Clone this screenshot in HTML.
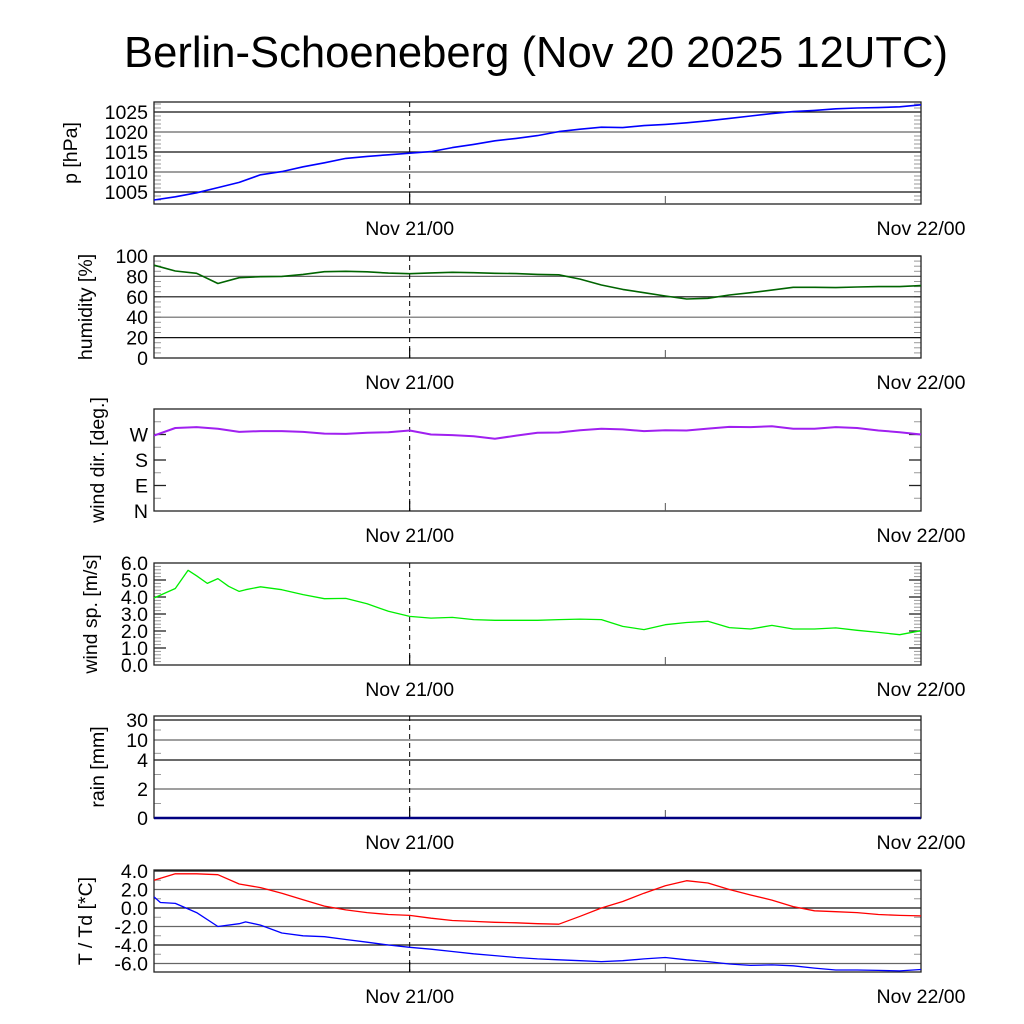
<!DOCTYPE html>
<html><head><meta charset="utf-8"><style>
html,body{margin:0;padding:0;background:#fff;}
svg{display:block;font-family:"Liberation Sans",sans-serif;}
</style></head><body>
<svg id="chart" width="1024" height="1024" viewBox="0 0 1024 1024" xmlns="http://www.w3.org/2000/svg">
<rect width="1024" height="1024" fill="#fff"/>
<text x="536" y="67" font-size="44" text-anchor="middle" textLength="824" lengthAdjust="spacingAndGlyphs">Berlin-Schoeneberg (Nov 20 2025 12UTC)</text>
</svg>
<script>
// ---- data (hours since Nov 20 12UTC) ----
const hours = [0,1,2,3,4,5,6,7,8,9,10,11,12,13,14,15,16,17,18,19,20,21,22,23,24,25,26,27,28,29,30,31,32,33,34,35,36];
const pressure = [1003,1003.8,1004.8,1006.1,1007.4,1009.3,1010.1,1011.3,1012.3,1013.4,1013.9,1014.3,1014.7,1015.1,1016.1,1016.9,1017.8,1018.4,1019.1,1020.1,1020.7,1021.2,1021.1,1021.6,1021.9,1022.3,1022.8,1023.4,1024.0,1024.6,1025.1,1025.4,1025.8,1026.0,1026.1,1026.3,1026.8];
const humidity = [91,85.3,83,73,78.7,79.7,80,82,84.6,85,84.5,83.2,82.6,83.4,84,83.6,83,82.7,82,81.6,77.4,71.6,67.3,64,60.8,57.8,58.5,61.8,64,66.6,69.3,69.3,69,69.6,70,70,71];
const windDir = [266,293,296,290,279,282,282,279,273,272,276,278,284,270,268,264,255,266,276,277,285,290,288,282,285,284,291,297,296,299,290,290,296,293,284,278,270];
const windHours = [0,1,1.6,2,2.5,3,3.5,4,4.3,5,6,7,8,9,10,11,12,13,14,15,16,17,18,19,20,21,22,23,24,25,26,27,28,29,30,31,32,33,34,35,36];
const windSpeed = [3.94,4.5,5.57,5.25,4.8,5.08,4.63,4.33,4.43,4.6,4.43,4.14,3.9,3.92,3.6,3.16,2.86,2.76,2.8,2.67,2.63,2.63,2.63,2.67,2.7,2.67,2.27,2.08,2.37,2.5,2.57,2.2,2.12,2.33,2.12,2.12,2.18,2.04,1.92,1.78,2.02];
const rain = [0,0,0,0,0,0,0,0,0,0,0,0,0,0,0,0,0,0,0,0,0,0,0,0,0,0,0,0,0,0,0,0,0,0,0,0,0];
const temperature = [3.0,3.7,3.7,3.6,2.6,2.2,1.6,0.9,0.2,-0.2,-0.5,-0.7,-0.8,-1.1,-1.35,-1.45,-1.55,-1.6,-1.7,-1.75,-0.9,0.0,0.7,1.6,2.4,2.95,2.7,2.0,1.4,0.85,0.15,-0.3,-0.4,-0.5,-0.7,-0.8,-0.85];
const dewHours = [0,0.3,1,2,3,4,4.3,5,6,7,8,9,10,11,12,13,14,15,16,17,18,19,20,21,22,23,24,25,26,27,28,29,30,31,32,33,34,35,36];
const dewpoint = [1.2,0.6,0.5,-0.5,-2.0,-1.7,-1.5,-1.85,-2.7,-3.0,-3.1,-3.4,-3.7,-4.0,-4.25,-4.45,-4.7,-4.95,-5.15,-5.35,-5.5,-5.6,-5.7,-5.8,-5.7,-5.5,-5.35,-5.6,-5.8,-6.05,-6.2,-6.15,-6.25,-6.5,-6.7,-6.7,-6.75,-6.8,-6.65];
const xTickLabels = ["Nov 21/00","Nov 22/00"];
const xTickHours = [12,36];

const NS="http://www.w3.org/2000/svg";
const svg=document.getElementById('chart');
const X0=154,X1=921,H0=0,H1=36;
function xs(h){return X0+(h-H0)/(H1-H0)*(X1-X0);}
function mk(tag,attrs,parent){const e=document.createElementNS(NS,tag);for(const k in attrs)e.setAttribute(k,attrs[k]);(parent||svg).appendChild(e);return e;}

function panel(name,pTop,ymap,opts){
  const g=mk('g',{});
  
  
  const bot=pTop+102;
  (opts.minor||[]).forEach(v=>{const y=ymap(v);
    mk('line',{x1:X0,x2:X0+7,y1:y,y2:y,stroke:'#999','stroke-width':1},g);
    mk('line',{x1:X1-7,x2:X1,y1:y,y2:y,stroke:'#999','stroke-width':1},g);});
  (opts.major||[]).forEach(v=>{const y=ymap(v);
    mk('line',{x1:X0,x2:X0+12,y1:y,y2:y,stroke:'#222','stroke-width':1.3},g);
    mk('line',{x1:X1-12,x2:X1,y1:y,y2:y,stroke:'#222','stroke-width':1.3},g);});
  (opts.grid||[]).forEach((v,i)=>{const y=ymap(v);
    const l=mk('line',{x1:X0,x2:X1,y1:y,y2:y,stroke:i%2?'#666':'#111','stroke-width':1.2},g);
    
    });
  mk('rect',{x:X0,y:pTop,width:X1-X0,height:102,fill:'none',stroke:'#222','stroke-width':1.3},g);
  mk('line',{x1:xs(12),x2:xs(12),y1:pTop,y2:bot,stroke:'#000','stroke-width':1,'stroke-dasharray':'5,4'},g);
  mk('line',{x1:xs(12),x2:xs(12),y1:bot-10,y2:bot,stroke:'#000','stroke-width':1.2},g);
  mk('line',{x1:xs(24),x2:xs(24),y1:bot-8,y2:bot,stroke:'#555','stroke-width':1},g);
  (opts.labels||[]).forEach(([v,t])=>{const tx=mk('text',{x:148,y:ymap(v)+7,'font-size':19.5,'text-anchor':'end'},g);tx.textContent=t;
    
    });
  const tt=mk('text',{x:0,y:0,'font-size':19.5,'text-anchor':'middle',transform:`translate(${opts.titleX||79},${pTop+51}) rotate(-90)`},g);
  tt.textContent=opts.title;
  
  
  xTickHours.forEach((h,i)=>{const tx=mk('text',{x:xs(h),y:bot+31,'font-size':19.5,'text-anchor':'middle'},g);tx.textContent=xTickLabels[i];
    
    });
  return g;
}
function series(g,name,hs,vals,ymap,color,w){
  const d=hs.map((h,i)=>(i?'L':'M')+xs(h).toFixed(1)+','+ymap(vals[i]).toFixed(1)).join('');
  const p=mk('path',{d:d,fill:'none',stroke:color,'stroke-width':w||1.3,'stroke-linejoin':'round'},g);
  
  
}
function range(a,b,s){const r=[];for(let v=a;v<=b+1e-9;v+=s)r.push(+v.toFixed(3));return r;}

const yP=v=>204-(v-1002)*4;
let g=panel('pressure',102,yP,{minor:range(1003,1027,1),grid:[1025,1020,1015,1010,1005],labels:[[1025,'1025'],[1020,'1020'],[1015,'1015'],[1010,'1010'],[1005,'1005']],title:'p [hPa]',titleX:77});
series(g,'pressure-line',hours,pressure,yP,'#0000ff',1.6);

const yH=v=>358-v*1.02;
g=panel('humidity',256,yH,{minor:range(0,100,5),grid:[100,80,60,40,20],labels:[[100,'100'],[80,'80'],[60,'60'],[40,'40'],[20,'20'],[0,'0']],title:'humidity [%]',titleX:92});
series(g,'humidity-line',hours,humidity,yH,'#006400',1.6);

const yD=v=>511-v/360*102;
g=panel('wind-direction',409,yD,{minor:[45,135,225,315],major:[90,180,270],labels:[[270,'W'],[180,'S'],[90,'E'],[0,'N']],title:'wind dir. [deg.]',titleX:104});
series(g,'wind-direction-line',hours,windDir,yD,'#a020f0',2);

const yS=v=>665-v*17;
g=panel('wind-speed',563,yS,{minor:range(0,6,0.2),major:[1,2,3,4,5],labels:[[6,'6.0'],[5,'5.0'],[4,'4.0'],[3,'3.0'],[2,'2.0'],[1,'1.0'],[0,'0.0']],title:'wind sp. [m/s]',titleX:97});
series(g,'wind-speed-line',windHours,windSpeed,yS,'#00ee00',1.3);

const rainVals=[0,2,4,10,30],rainPix=[818,789,760,740,720];
const yR=v=>{for(let i=1;i<rainVals.length;i++){if(v<=rainVals[i]){const t=(v-rainVals[i-1])/(rainVals[i]-rainVals[i-1]);return rainPix[i-1]+t*(rainPix[i]-rainPix[i-1]);}}return 716;};
g=panel('rain',716,yR,{minor:[1,3,6,20],grid:[30,10,4,2],labels:[[30,'30'],[10,'10'],[4,'4'],[2,'2'],[0,'0']],title:'rain [mm]',titleX:104});
series(g,'rain-line',hours,rain,yR,'#000080',2.5);

const yT=v=>871-(v-4)*9.25;
g=panel('temperature',870,yT,{minor:range(-6,4,1),grid:[4,2,0,-2,-4,-6],labels:[[4,'4.0'],[2,'2.0'],[0,'0.0'],[-2,'-2.0'],[-4,'-4.0'],[-6,'-6.0']],title:'T / Td [*C]',titleX:92});
series(g,'temperature-line',hours,temperature,yT,'#ff0000',1.3);
series(g,'dewpoint-line',dewHours,dewpoint,yT,'#0000ff',1.3);
</script>
</body></html>
